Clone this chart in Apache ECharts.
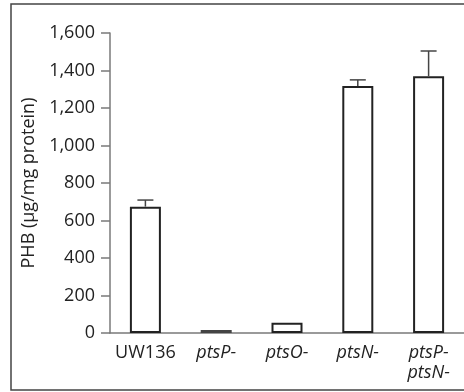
<!DOCTYPE html>
<html>
<head>
<meta charset="utf-8">
<script src="https://cdn.jsdelivr.net/npm/echarts@6/dist/echarts.min.js"></script>
<style>
  html, body { margin: 0; padding: 0; background: #fff; }
  #main { width: 464px; height: 392px; }
</style>
</head>
<body>
<div id="main"></div>
<script>
// 数据
var strains = ['UW136', 'ptsP-', 'ptsO-', 'ptsN-', 'ptsP-\nptsN-'];
var phbMean = [674, 16, 55, 1318, 1370];
var phbErr = [35, 0, 0, 32, 134];
var yTicks = [0, 200, 400, 600, 800, 1000, 1200, 1400, 1600];

var myChart = echarts.init(document.getElementById('main'));

var barData = phbMean.map(function (v, i) {
  // ptsP- 柱子很矮，原图里看起来是灰色
  if (i === 1) return { value: v, itemStyle: { color: '#9a9a9a', borderColor: '#444', borderWidth: 1.5 } };
  return v;
});

var errData = phbMean.map(function (v, i) {
  return [i, v, v + phbErr[i]];
});

var option = {
  animation: false,
  textStyle: { fontFamily: 'Open Sans' },
  graphic: [
    {
      type: 'rect',
      shape: { x: 11, y: 4, width: 470, height: 386 },
      style: { fill: 'none', stroke: '#444', lineWidth: 1.5 },
      silent: true
    }
  ],
  grid: { left: 110, top: 33, width: 370, height: 300 },
  xAxis: {
    type: 'category',
    data: strains,
    axisLine: { lineStyle: { color: '#7a7a7a', width: 1.5 } },
    axisTick: { length: 10, lineStyle: { color: '#7a7a7a', width: 1.5 } },
    axisLabel: {
      margin: 10,
      interval: 0,
      color: '#222',
      fontSize: 18,
      formatter: function (val) {
        return val.split('\n').map(function (s) {
          return s.indexOf('pts') === 0 ? '{i|' + s + '}' : '{n|' + s + '}';
        }).join('\n');
      },
      rich: {
        i: { fontStyle: 'italic', fontSize: 18, color: '#222', lineHeight: 20 },
        n: { fontSize: 18, color: '#222', lineHeight: 20 }
      }
    }
  },
  yAxis: {
    type: 'value',
    min: 0,
    max: 1600,
    interval: 200,
    name: 'PHB (µg/mg protein)',
    nameLocation: 'middle',
    nameGap: 72,
    nameTextStyle: { color: '#222', fontSize: 18 },
    splitLine: { show: false },
    axisLine: { show: true, lineStyle: { color: '#7a7a7a', width: 1.5 } },
    axisTick: { show: true, length: 9, lineStyle: { color: '#7a7a7a', width: 1.5 } },
    axisLabel: {
      margin: 15,
      color: '#222',
      fontSize: 18,
      formatter: function (v) {
        return yTicks.indexOf(v) >= 0 ? v.toLocaleString('en-US') : '';
      }
    }
  },
  series: [
    {
      type: 'bar',
      data: barData,
      barWidth: 31,
      itemStyle: { color: '#fff', borderColor: '#222', borderWidth: 2 }
    },
    {
      type: 'custom',
      data: errData,
      z: 3,
      renderItem: function (params, api) {
        var lo = api.coord([api.value(0), api.value(1)]);
        var hi = api.coord([api.value(0), api.value(2)]);
        if (hi[1] >= lo[1] - 0.5) return;
        var cap = 8;
        var st = { stroke: '#444', lineWidth: 1.5 };
        return {
          type: 'group',
          children: [
            { type: 'line', shape: { x1: lo[0], y1: lo[1], x2: hi[0], y2: hi[1] }, style: st },
            { type: 'line', shape: { x1: hi[0] - cap, y1: hi[1], x2: hi[0] + cap, y2: hi[1] }, style: st }
          ]
        };
      }
    }
  ]
};

myChart.setOption(option);
</script>
</body>
</html>
